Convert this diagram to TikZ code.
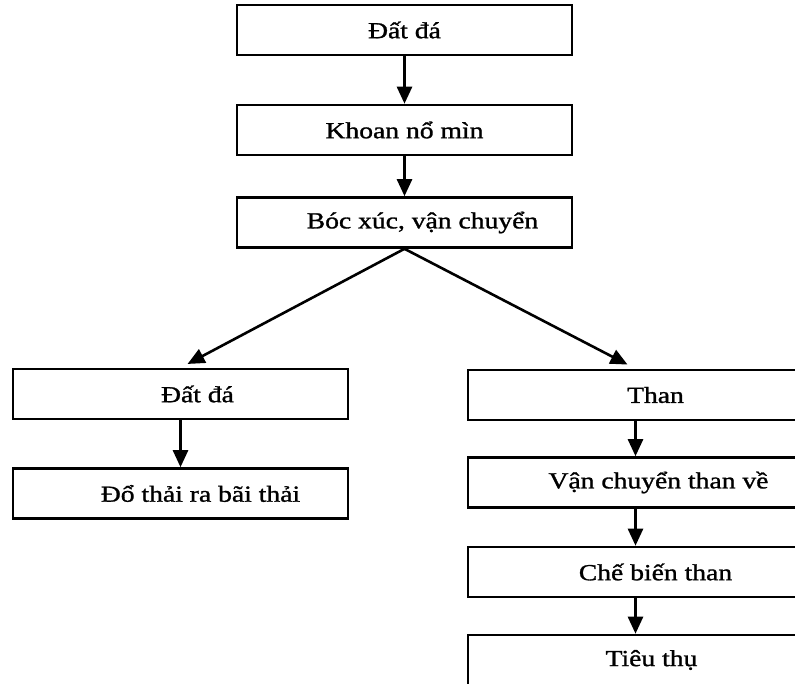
\documentclass[tikz,border=0pt]{standalone}
\usepackage{fontspec}
\setmainfont{Liberation Serif}[FakeStretch=1.2,FakeBold=1.2]
\usepackage{tikz}
\usetikzlibrary{arrows.meta,positioning}

\begin{document}
\begin{tikzpicture}[
    x=1pt, y=-1pt,
    block/.style={rectangle, draw, line width=2.6pt, minimum height=50pt, minimum width=335pt, font=\fontsize{23}{27}\selectfont, inner sep=0pt},
    push/.style={execute at begin node={\hspace*{#1pt}}},
    arrow/.style={-{Triangle[length=17pt,width=15pt]}, line width=2.6pt}
]
    \clip (0,0) rectangle (795,683);

    % Main line
    \node[block] (datda) at (404.5, 30) {Đất đá};
    \node[block] (khoan) at (404.5, 130) {Khoan nổ mìn};
    \node[block, push=36] (bocxuc) at (404.5, 222.5) {Bóc xúc, vận chuyển};

    % Waste branch
    \node[block, push=34] (datda2) at (180.5, 394) {Đất đá};
    \node[block, push=40] (dothai) at (180.5, 493.5) {Đổ thải ra bãi thải};

    % Coal branch
    \node[block, push=40] (than) at (635.5, 395) {Than};
    \node[block, push=46] (vanchuyen) at (635.5, 482.5) {Vận chuyển than về};
    \node[block, push=40] (chebien) at (635.5, 572) {Chế biến than};
    \node[block, push=32] (tieuthu) at (635.5, 660) {Tiêu thụ};

    % Arrows
    \draw[arrow] (datda) -- (khoan);
    \draw[arrow] (khoan) -- (bocxuc);
    \draw[arrow, shorten >=8pt] (bocxuc.south) -- (datda2.north);
    \draw[arrow, shorten >=9pt] (bocxuc.south) -- (than.north);

    \draw[arrow] (datda2) -- (dothai);

    \draw[arrow] (than) -- (vanchuyen);
    \draw[arrow] (vanchuyen) -- (chebien);
    \draw[arrow] (chebien) -- (tieuthu);

\end{tikzpicture}
\end{document}
